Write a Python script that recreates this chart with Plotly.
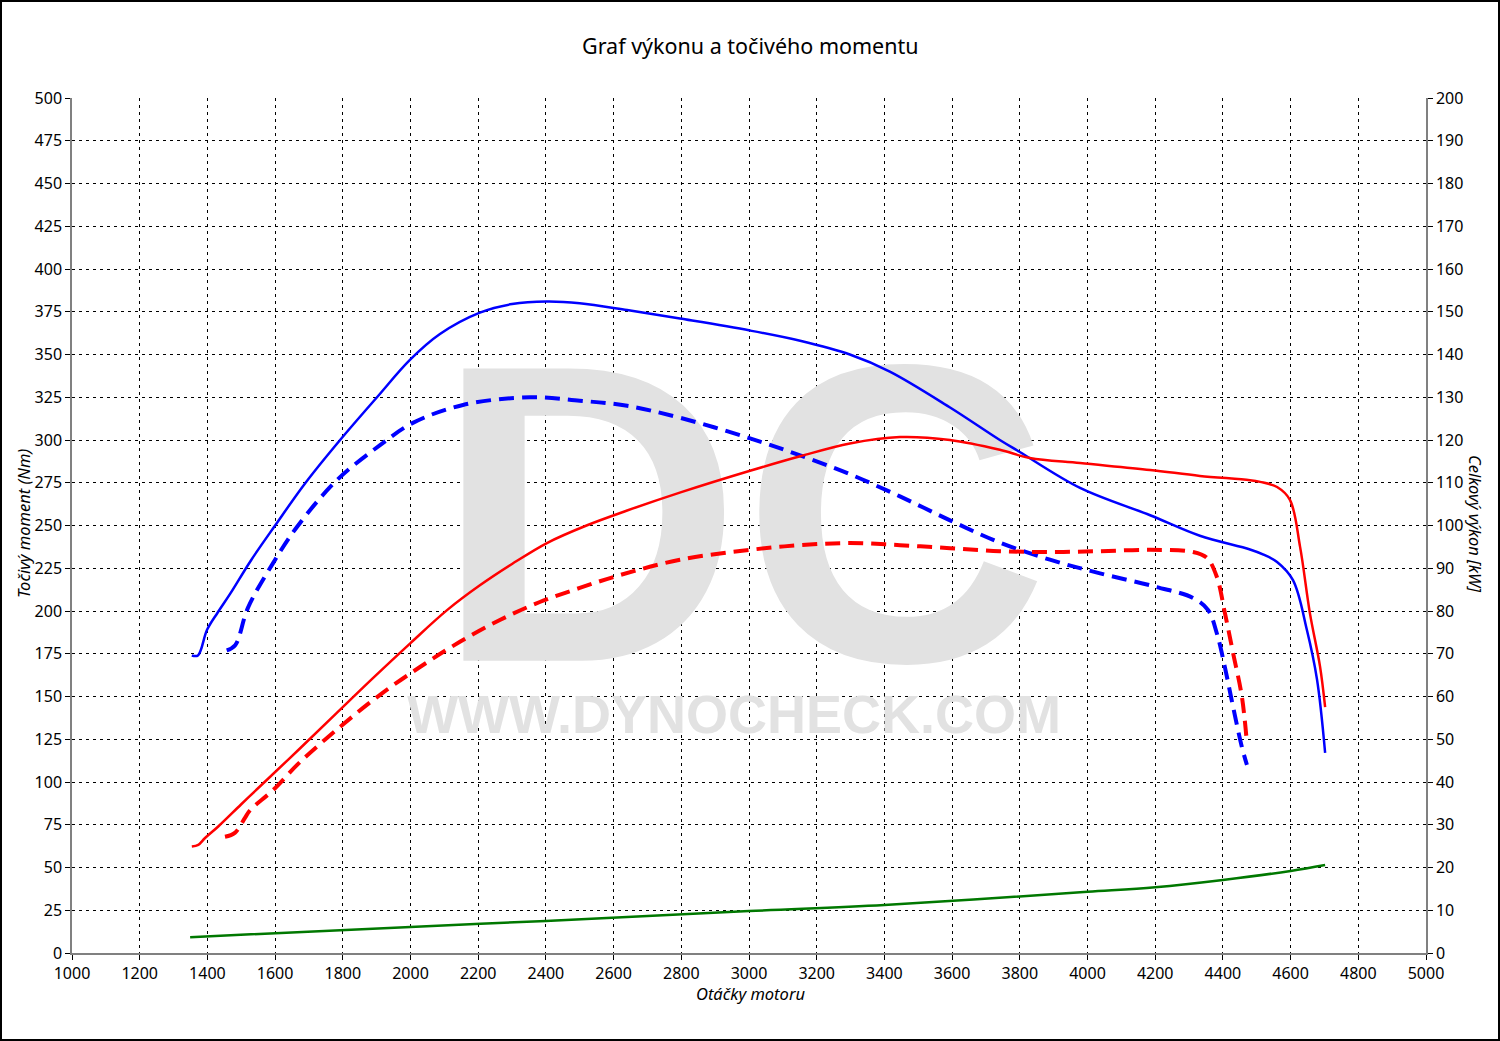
import plotly.graph_objects as go

# ---- data (rpm, Nm, kW) ----
rpm_torque_tuned = [1354, 1372, 1399, 1430, 1467, 1530, 1600, 1690, 1792, 1901, 1999, 2087, 2205, 2300,
                    2403, 2500, 2640, 2796, 3003, 3151, 3298, 3416, 3594, 3741, 3800, 3978, 4185, 4332,
                    4480, 4520, 4560, 4607, 4648, 4678, 4702]
torque_tuned = [174, 174, 189, 199, 210, 230, 250, 275, 300, 325, 347, 362, 374.5, 379.5,
                381, 380, 376, 371, 364, 358, 350, 340, 319, 300, 293, 272, 256, 244,
                236, 233, 228.6, 218, 189, 160, 117]

rpm_torque_stock = [1457, 1482, 1520, 1594, 1664, 1783, 1910, 2007, 2155, 2353, 2500, 2640,
                    2796, 3003, 3151, 3298, 3446, 3594, 3741, 3889, 4037, 4205, 4312, 4356, 4382,
                    4406, 4430, 4456, 4471]
torque_stock = [177, 180, 202, 228, 249, 276.6, 297, 310, 320.5, 325, 323, 320,
                313, 301, 291, 280, 267, 253, 240, 230, 222, 214, 207.6, 200.6, 187,
                167, 144, 120.5, 110]

rpm_power_tuned = [1354, 1373, 1393, 1432, 1500, 1569, 1674, 1780, 1889, 2000, 2108, 2205, 2300, 2403,
                   2520, 2640, 2800, 3003, 3151, 3298, 3446, 3594, 3741, 3830, 3978, 4185, 4332, 4480,
                   4510, 4560, 4598, 4628, 4657, 4687, 4702]
power_tuned = [24.9, 25.3, 26.9, 29.6, 34.8, 40.0, 47.9, 56.0, 64.3, 72.5, 80.2, 86.0, 91.0, 95.9,
               100.0, 103.5, 107.8, 112.8, 116.2, 119.2, 120.7, 120.0, 117.7, 115.8, 114.6, 113.0, 111.6, 110.6,
               110.2, 109.0, 106.0, 95.0, 79.5, 67.0, 57.5]

rpm_power_stock = [1452, 1481, 1511, 1526, 1594, 1674, 1792, 1910, 2028, 2146, 2264, 2382, 2500, 2619, 2796,
                   3003, 3151, 3298, 3446, 3594, 3741, 3889, 4037, 4185, 4312, 4353, 4382, 4406, 4430,
                   4456, 4471]
power_stock = [27.2, 28.1, 31.6, 33.4, 38.1, 44.7, 52.9, 60.4, 66.9, 72.8, 77.9, 82.1, 85.4, 88.4, 92.0,
               94.3, 95.4, 95.9, 95.4, 94.7, 94.0, 93.8, 94.0, 94.3, 93.8, 92.4, 88.0, 79.5, 70.2,
               60.0, 49.1]

rpm_loss = [1349, 2000, 2400, 3000, 3400, 4000, 4200, 4400, 4600, 4702]
power_loss = [3.7, 6.1, 7.5, 9.8, 11.2, 14.3, 15.4, 17.1, 19.2, 20.6]

x_ticks = list(range(1000, 5001, 200))
y_ticks_left = list(range(0, 501, 25))
y_ticks_right = list(range(0, 201, 10))

# watermark texts (decoration, placed in axis units)
wm_logo = "DC"
wm_site = "WWW.DYNOCHECK.COM"

FONT = "Noto Sans"
W, H = 1500, 1041
L, R, T, B = 72, 74, 98, 88
PW, PH = W - L - R, H - T - B


def px(xp):
    return (xp - L) / PW


def py(yp):
    return (H - B - yp) / PH


fig = go.Figure()

# watermark first so it lies under everything
fig.add_trace(go.Scatter(x=[2979], y=[233], mode="text", text=[wm_logo], textposition="middle center",
                         textfont=dict(family="Liberation Sans", size=425, color="#e2e2e2", weight="bold"),
                         hoverinfo="skip"))
fig.add_trace(go.Scatter(x=[2956], y=[136.3], mode="text", text=[wm_site], textposition="middle center",
                         textfont=dict(family="Liberation Sans", size=54, color="#e2e2e2", weight="bold"),
                         hoverinfo="skip"))

fig.add_trace(go.Scatter(x=rpm_power_tuned, y=power_tuned, yaxis="y2", mode="lines",
                         line=dict(color="#ff0000", width=2.5, shape="spline", smoothing=1.0)))
fig.add_trace(go.Scatter(x=rpm_power_stock, y=power_stock, yaxis="y2", mode="lines",
                         line=dict(color="#ff0000", width=4, dash="15px,8px", shape="spline", smoothing=1.0)))
fig.add_trace(go.Scatter(x=rpm_torque_tuned, y=torque_tuned, mode="lines",
                         line=dict(color="#0000ff", width=2.5, shape="spline", smoothing=1.0)))
fig.add_trace(go.Scatter(x=rpm_torque_stock, y=torque_stock, mode="lines",
                         line=dict(color="#0000ff", width=4, dash="15px,8px", shape="spline", smoothing=1.0)))
fig.add_trace(go.Scatter(x=rpm_loss, y=power_loss, yaxis="y2", mode="lines",
                         line=dict(color="#007800", width=2.5, shape="spline", smoothing=1.0)))

grid = dict(showgrid=True, gridcolor="#000000", gridwidth=1.2, griddash="3px,4px",
            ticks="outside", ticklen=5, tickcolor="#000000",
            tickfont=dict(family=FONT, size=16, color="#000000"),
            showline=True, linecolor="#808080", linewidth=1.5, zeroline=False)

fig.update_layout(
    width=W, height=H,
    paper_bgcolor="white", plot_bgcolor="white",
    margin=dict(l=L, r=R, t=T, b=B),
    showlegend=False,
    xaxis=dict(range=[1000, 5000], tickvals=x_ticks, **grid),
    yaxis=dict(range=[0, 500], tickvals=y_ticks_left, **grid),
    yaxis2=dict(range=[0, 200], tickvals=y_ticks_right, overlaying="y", side="right",
                showgrid=False, ticks="outside", ticklen=5, tickcolor="#000000",
                tickfont=dict(family=FONT, size=16, color="#000000"),
                showline=True, linecolor="#808080", linewidth=1.5, zeroline=False),
    annotations=[
        dict(text="Graf výkonu a točivého momentu", x=px(750), y=py(46), xref="paper", yref="paper",
             showarrow=False, xanchor="center", yanchor="middle",
             font=dict(family=FONT, size=21.5, color="#000000")),
        dict(text="<i>Otáčky motoru</i>", xref="paper", yref="paper",
             x=px(750), y=py(993), showarrow=False,
             xanchor="center", yanchor="middle",
             font=dict(family=FONT, size=16.5, color="#000000")),
        dict(text="<i>Točivý moment (Nm)</i>", xref="paper", yref="paper",
             x=px(23), y=py(524), showarrow=False, textangle=-90,
             xanchor="center", yanchor="middle",
             font=dict(family=FONT, size=16.5, color="#000000")),
        dict(text="<i>Celkový výkon [kW]</i>", xref="paper", yref="paper",
             x=px(1476), y=py(524), showarrow=False, textangle=90,
             xanchor="center", yanchor="middle",
             font=dict(family=FONT, size=16.5, color="#000000")),
    ],
    shapes=[
        dict(type="rect", xref="paper", yref="paper",
             x0=px(1), x1=px(1499), y0=py(1040), y1=py(1),
             line=dict(color="#000000", width=2), fillcolor="rgba(0,0,0,0)", layer="above"),
    ],
)

fig.update_layout(xaxis_layer="above traces", yaxis_layer="above traces")

fig.write_html("out.html", config={"displayModeBar": False},
               post_script="document.body.style.margin='0';document.body.style.overflow='hidden';")
